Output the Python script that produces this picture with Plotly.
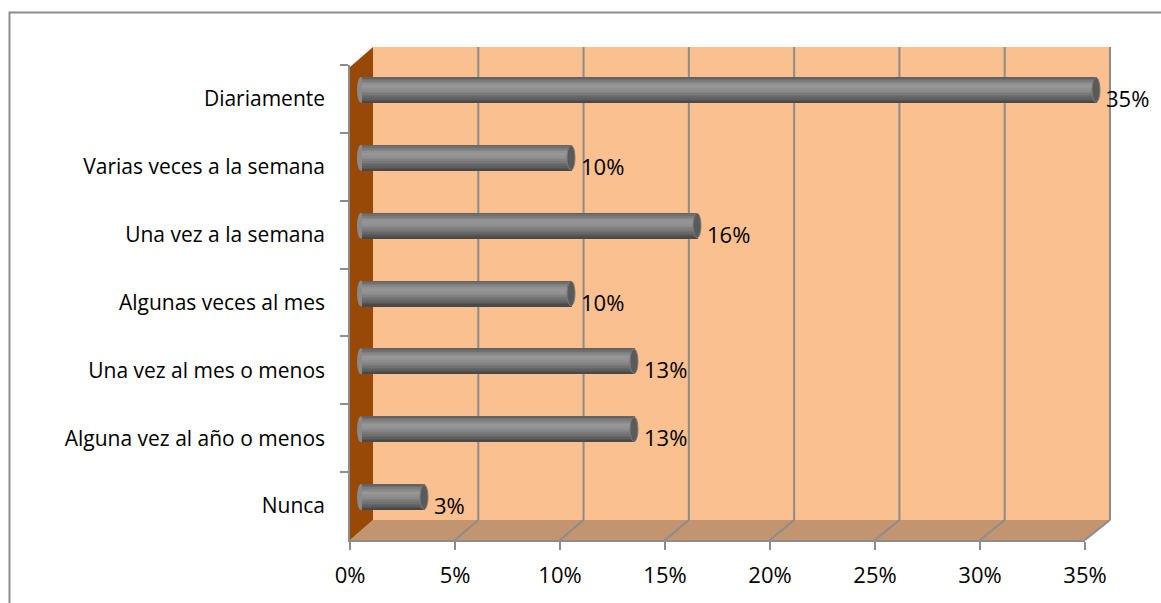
import plotly.graph_objects as go

# Survey frequency data
categorias = [
    "Diariamente",
    "Varias veces a la semana",
    "Una vez a la semana",
    "Algunas veces al mes",
    "Una vez al mes o menos",
    "Alguna vez al año o menos",
    "Nunca",
]
porcentajes = [35, 10, 16, 10, 13, 13, 3]
ticks_x = [0, 5, 10, 15, 20, 25, 30, 35]
etiquetas_x = ["0%", "5%", "10%", "15%", "20%", "25%", "30%", "35%"]

W, H = 1161, 603
FONT = "Open Sans"
FSIZE_CAT = 21
FSIZE_NUM = 22


def fx(px):
    return px / W


def fy(py):
    return 1 - py / H


# pseudo-3D frame geometry (pixels)
FRONT_L, FRONT_R = 350, 1085
FRONT_T, FRONT_B = 65, 540
BACK_L, BACK_R = 373, 1110
BACK_T, BACK_B = 47, 520
XMAX = 35
PX_PER_UNIT = (FRONT_R - FRONT_L) / XMAX
BAR_X0 = 361               # bars sit halfway into the depth
BAR_DY = -9
X_LO, X_HI = -0.5, 35.5

WALL = "#FAC090"
SIDE = "#984807"
FLOOR = "#C39470"
GRID = "#8C8C8C"

n = len(categorias)
bar_w = 26 / ((FRONT_B - FRONT_T) / n)

fig = go.Figure()

# cylinder body: bands painted top to bottom, each reaching the lower edge
perfil = [(0.0, 92), (0.12, 118), (0.32, 152), (0.5, 142), (0.75, 108), (0.92, 82), (1.0, 68)]


def gris(t):
    for (t0, c0), (t1, c1) in zip(perfil, perfil[1:]):
        if t0 <= t <= t1:
            c = int(round(c0 + (c1 - c0) * (t - t0) / (t1 - t0)))
            return f"rgb({c},{c},{c})"
    return "rgb(100,100,100)"


n_str = 16
for k in range(n_str):
    t0 = k / n_str
    fig.add_trace(go.Bar(
        x=porcentajes, y=categorias, orientation="h",
        width=bar_w * (1 - t0),
        offset=-bar_w / 2 + t0 * bar_w,
        marker=dict(color=gris((k + 0.5) / n_str), line=dict(width=0)),
        hoverinfo="skip", showlegend=False,
        xaxis="x", yaxis="y",
    ))

# invisible trace so the front category axis carries the labels
fig.add_trace(go.Scatter(
    x=[0] * n, y=categorias, mode="markers", marker=dict(opacity=0),
    hoverinfo="skip", showlegend=False, xaxis="x2", yaxis="y2",
))

shapes = []


def poly(pts, fill):
    path = "M " + " L ".join(f"{fx(x)},{fy(y)}" for x, y in pts) + " Z"
    shapes.append(dict(type="path", path=path, xref="paper", yref="paper",
                       fillcolor=fill, line=dict(width=0), layer="below"))


def seg(p, q, color=GRID, lw=2):
    shapes.append(dict(type="line", xref="paper", yref="paper",
                       x0=fx(p[0]), y0=fy(p[1]), x1=fx(q[0]), y1=fy(q[1]),
                       line=dict(color=color, width=lw), layer="below"))


# outer chart border
shapes.append(dict(type="rect", xref="paper", yref="paper",
                   x0=fx(9.5), y0=fy(640), x1=fx(1200), y1=fy(12.5),
                   line=dict(color="#8C8C8C", width=2), fillcolor="rgba(0,0,0,0)",
                   layer="below"))

# back wall, floor, side wall
poly([(BACK_L, BACK_T), (BACK_R, BACK_T), (BACK_R, BACK_B), (BACK_L, BACK_B)], WALL)
poly([(FRONT_L, FRONT_B), (BACK_L, BACK_B), (BACK_R, BACK_B), (FRONT_R, FRONT_B)], FLOOR)
poly([(FRONT_L, FRONT_T + 2), (BACK_L, BACK_T), (BACK_L, BACK_B), (FRONT_L, FRONT_B)], SIDE)

# gridlines on the back wall and across the floor
for v in ticks_x[1:]:
    xb = BACK_L + v / XMAX * (BACK_R - BACK_L)
    xf = FRONT_L + v / XMAX * (FRONT_R - FRONT_L)
    seg((xb, BACK_T), (xb, BACK_B))
    seg((xb, BACK_B), (xf, FRONT_B))

# cylinder end caps
cap = 4 / PX_PER_UNIT
for i, v in enumerate(porcentajes):
    shapes.append(dict(type="circle", xref="x", yref="y",
                       x0=-cap, x1=cap, y0=i - bar_w / 2, y1=i + bar_w / 2,
                       fillcolor="#8A8A8A", line=dict(width=0), layer="below"))
    shapes.append(dict(type="circle", xref="x", yref="y",
                       x0=v - cap, x1=v + cap, y0=i - bar_w / 2 + 0.01, y1=i + bar_w / 2 - 0.01,
                       fillcolor="#5A5A5A", line=dict(color="#7A7A7A", width=1), layer="above"))

annotations = []
for i, v in enumerate(porcentajes):
    annotations.append(dict(
        x=v, y=i, xref="x", yref="y", text=f"{v}%", showarrow=False,
        xanchor="left", yanchor="middle", xshift=8, yshift=-8,
        font=dict(family=FONT, size=FSIZE_NUM, color="black"),
    ))

bar_left_px = BAR_X0 + X_LO * PX_PER_UNIT
bar_right_px = BAR_X0 + X_HI * PX_PER_UNIT

fig.update_layout(
    template="none",
    width=W, height=H,
    margin=dict(l=0, r=0, t=0, b=0, pad=0),
    paper_bgcolor="white", plot_bgcolor="rgba(0,0,0,0)",
    barmode="overlay", bargap=0, showlegend=False,
    font=dict(family=FONT, size=FSIZE_CAT, color="black"),
    shapes=shapes, annotations=annotations,
    xaxis=dict(domain=[fx(bar_left_px), fx(bar_right_px)], range=[X_LO, X_HI],
               visible=False, anchor="y", automargin=False),
    yaxis=dict(domain=[fy(FRONT_B + BAR_DY), fy(FRONT_T + BAR_DY)],
               type="category", categoryarray=categorias, range=[n - 0.5, -0.5],
               visible=False, anchor="x", automargin=False),
    xaxis2=dict(domain=[fx(FRONT_L), fx(FRONT_R)], range=[0, XMAX], anchor="y2",
                tickvals=ticks_x, ticktext=etiquetas_x, ticks="outside", ticklen=8,
                tickwidth=1.5, tickcolor=GRID, showline=True, linecolor=GRID,
                linewidth=1.5, showgrid=False, zeroline=False, automargin=False,
                ticklabelstandoff=7,
                tickfont=dict(family=FONT, size=FSIZE_NUM, color="black")),
    yaxis2=dict(domain=[fy(FRONT_B), fy(FRONT_T)], type="category",
                categoryarray=categorias, range=[n - 0.5, -0.5], anchor="x2",
                ticks="outside", ticklen=8, tickwidth=1.5, tickcolor=GRID,
                tickson="boundaries", showline=True, linecolor=GRID, linewidth=1.5,
                showgrid=False, zeroline=False, automargin=False,
                ticklabelstandoff=19,
                tickfont=dict(family=FONT, size=FSIZE_CAT, color="black")),
)

fig.write_html("out.html")
